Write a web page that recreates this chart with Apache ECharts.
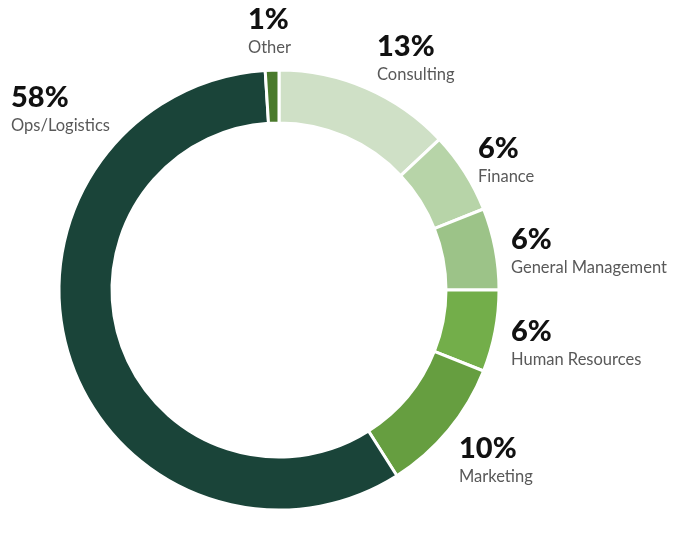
<!DOCTYPE html>
<html>
<head>
<meta charset="utf-8">
<script src="https://cdn.jsdelivr.net/npm/echarts@6/dist/echarts.min.js"></script>
<style>html,body{margin:0;padding:0;background:#fff}#c{width:700px;height:543px}</style>
</head>
<body>
<div id="c"></div>
<script>
const categories = ['Consulting', 'Finance', 'General Management', 'Human Resources', 'Marketing', 'Ops/Logistics', 'Other'];
const values = [13, 6, 6, 6, 10, 58, 1];
const colors = ['#cfe0c6', '#b7d4a8', '#9cc388', '#73ae4a', '#669e40', '#1a4439', '#4a7a2c'];
const labelSpots = {
  'Consulting': [377, 32],
  'Finance': [478, 134],
  'General Management': [511, 225],
  'Human Resources': [511, 317],
  'Marketing': [459, 434],
  'Ops/Logistics': [11, 83],
  'Other': [248, 5]
};
const chart = echarts.init(document.getElementById('c'));
chart.setOption({
  animation: false,
  series: [{
    type: 'pie',
    center: [279, 290],
    radius: [167, 220],
    startAngle: 90,
    clockwise: true,
    avoidLabelOverlap: false,
    data: categories.map((c, i) => ({ name: c, value: values[i], itemStyle: { color: colors[i] } })),
    itemStyle: { borderColor: '#fff', borderWidth: 3 },
    label: {
      show: true,
      position: 'outside',
      formatter: p => '{p|' + p.value + '%}\n{n|' + p.name + '}',
      rich: {
        p: { fontFamily: 'Lato', fontWeight: 900, fontSize: 29, color: '#111', lineHeight: 30 },
        n: { fontFamily: 'Lato', fontSize: 16.5, color: '#595959', lineHeight: 25 }
      }
    },
    labelLine: { show: false },
    labelLayout: function (params) {
      const idx = params.dataIndex;
      const s = labelSpots[categories[idx]];
      return { x: s[0], y: s[1], align: 'left', verticalAlign: 'top' };
    }
  }]
});
</script>
</body>
</html>
